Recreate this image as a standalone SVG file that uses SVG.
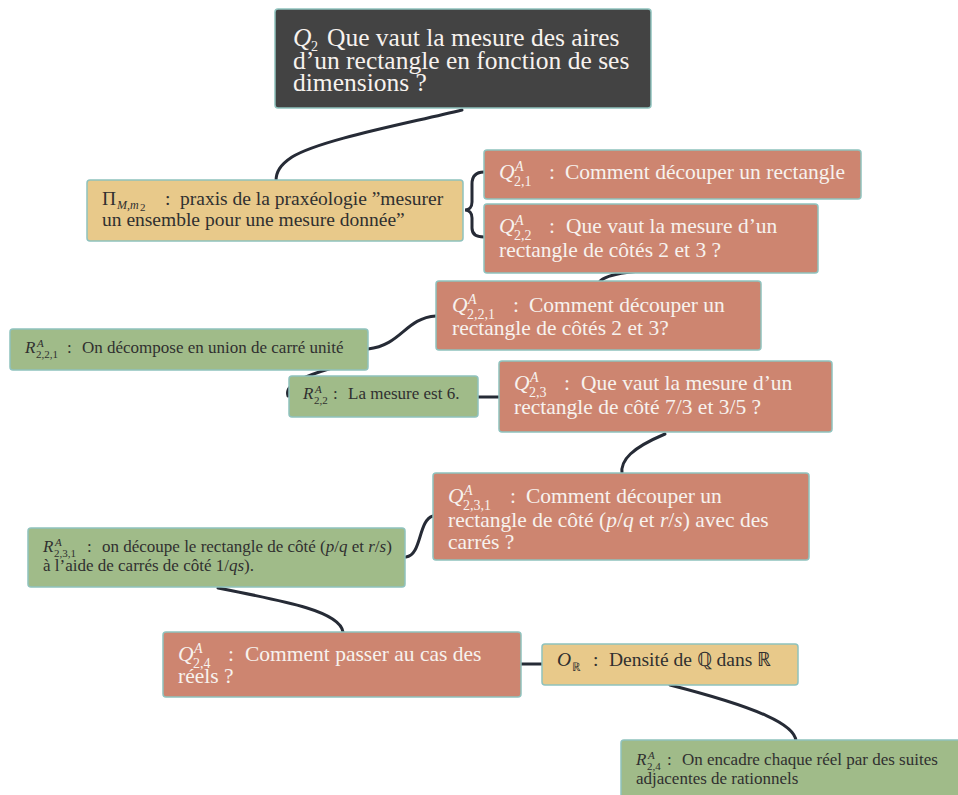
<svg xmlns="http://www.w3.org/2000/svg" width="958" height="795" viewBox="0 0 958 795">
<style>
text{font-family:"Liberation Serif","Times New Roman",serif;}
.box{stroke:#8fc2bd;stroke-width:1.5;}
.dark{fill:#434343;}
.or{fill:#cd8570;}
.gr{fill:#a0bb89;}
.ye{fill:#e8c98a;}
.tl{fill:#f7f2ee;}
.td{fill:#303030;}
.it{font-style:italic;}
.conn path,.conn line{fill:none;stroke:#262b36;stroke-width:3;stroke-linecap:round;}
.t25{font-size:25.5px;}
.t21{font-size:21.5px;}
.t19{font-size:19.5px;}
.t16{font-size:17px;}
.s14{font-size:14px;}
.s12{font-size:12px;}
.s11{font-size:11px;}
</style>
<rect width="958" height="795" fill="#ffffff"/>
<g id="connectors" class="conn">
<path d="M462,110 C400,125 320,140 292,157 C280,165 276,172 276,181"/>
<path d="M484,172 C476,172 472,176 472,184 L472,202 C472,207 469,210 465,210 C469,210 472,213 472,218 L472,228 C472,234 476,237 484,237"/>
<path d="M598,285 C600,274 630,272 652,270"/>
<path d="M436,316 C405,318 402,345 368,349"/>
<path d="M332,368 C305,376 284,384 288,396"/>
<line x1="478" y1="397" x2="499" y2="397"/>
<path d="M665,434 C632,448 620,460 622,474"/>
<path d="M433,516 C418,520 422,555 406,557"/>
<path d="M218,588 C290,602 340,612 343,632"/>
<line x1="521" y1="664" x2="542" y2="664"/>
<path d="M670,685 C760,708 795,725 796,741"/>
</g>
<g id="q2">
<rect class="box dark" x="275" y="9" width="376" height="99" rx="3"/>
<text class="tl t25"><tspan class="it" x="293" y="46">Q</tspan><tspan class="s14" x="311" y="51">2</tspan><tspan x="327" y="46">Que vaut la mesure des aires</tspan><tspan x="293" y="69">d’un rectangle en fonction de ses</tspan><tspan x="293" y="91">dimensions ?</tspan></text>
</g>
<g id="praxis">
<rect class="box ye" x="87" y="180" width="376" height="61" rx="3"/>
<text class="td t19"><tspan x="102" y="205">Π</tspan><tspan class="s12 it" x="117" y="209">M,m</tspan><tspan class="s11" x="140" y="211">2</tspan><tspan x="165" y="205">:</tspan><tspan x="180" y="205">praxis de la praxéologie ”mesurer</tspan><tspan x="102" y="226">un ensemble pour une mesure donnée”</tspan></text>
</g>
<g id="q21">
<rect class="box or" x="484" y="150" width="377" height="49" rx="3"/>
<text class="tl t21"><tspan class="it" x="499" y="179">Q</tspan><tspan class="s14 it" x="515" y="171">A</tspan><tspan class="s14" x="514" y="186">2,1</tspan><tspan x="549" y="179">:</tspan><tspan x="565" y="179">Comment découper un rectangle</tspan></text>
</g>
<g id="q22">
<rect class="box or" x="484" y="204" width="334" height="69" rx="3"/>
<text class="tl t21"><tspan class="it" x="499" y="233">Q</tspan><tspan class="s14 it" x="515" y="225">A</tspan><tspan class="s14" x="514" y="240">2,2</tspan><tspan x="549" y="233">:</tspan><tspan x="566" y="233">Que vaut la mesure d’un</tspan><tspan x="499" y="257">rectangle de côtés 2 et 3 ?</tspan></text>
</g>
<g id="q221">
<rect class="box or" x="436" y="281" width="325" height="69" rx="3"/>
<text class="tl t21"><tspan class="it" x="452" y="312">Q</tspan><tspan class="s14 it" x="468" y="304">A</tspan><tspan class="s14" x="467" y="319">2,2,1</tspan><tspan x="513" y="312">:</tspan><tspan x="529" y="312">Comment découper un</tspan><tspan x="452" y="335">rectangle de côtés 2 et 3?</tspan></text>
</g>
<g id="r221">
<rect class="box gr" x="10" y="329" width="358" height="41" rx="3"/>
<text class="td t16"><tspan class="it" x="25" y="353">R</tspan><tspan class="s11 it" x="37" y="347">A</tspan><tspan class="s11" x="36" y="358">2,2,1</tspan><tspan x="67" y="353">:</tspan><tspan x="82" y="353">On décompose en union de carré unité</tspan></text>
</g>
<g id="r22">
<rect class="box gr" x="289" y="376" width="189" height="41" rx="3"/>
<text class="td t16"><tspan class="it" x="303" y="399">R</tspan><tspan class="s11 it" x="315" y="393">A</tspan><tspan class="s11" x="314" y="404">2,2</tspan><tspan x="333" y="399">:</tspan><tspan x="348" y="399">La mesure est 6.</tspan></text>
</g>
<g id="q23">
<rect class="box or" x="499" y="361" width="333" height="71" rx="3"/>
<text class="tl t21"><tspan class="it" x="514" y="390">Q</tspan><tspan class="s14 it" x="530" y="382">A</tspan><tspan class="s14" x="529" y="397">2,3</tspan><tspan x="564" y="390">:</tspan><tspan x="581" y="390">Que vaut la mesure d’un</tspan><tspan x="514" y="414">rectangle de côté 7/3 et 3/5 ?</tspan></text>
</g>
<g id="q231">
<rect class="box or" x="433" y="473" width="376" height="87" rx="3"/>
<text class="tl t21"><tspan class="it" x="448" y="503">Q</tspan><tspan class="s14 it" x="464" y="495">A</tspan><tspan class="s14" x="463" y="510">2,3,1</tspan><tspan x="510" y="503">:</tspan><tspan x="526" y="503">Comment découper un</tspan><tspan x="448" y="527">rectangle de côté (<tspan class="it">p</tspan>/<tspan class="it">q</tspan> et <tspan class="it">r</tspan>/<tspan class="it">s</tspan>) avec des</tspan><tspan x="448" y="549">carrés ?</tspan></text>
</g>
<g id="r231">
<rect class="box gr" x="28" y="528" width="377" height="59" rx="3"/>
<text class="td t16"><tspan class="it" x="43" y="552">R</tspan><tspan class="s11 it" x="55" y="546">A</tspan><tspan class="s11" x="54" y="557">2,3,1</tspan><tspan x="87" y="552">:</tspan><tspan x="102" y="552">on découpe le rectangle de côté (<tspan class="it">p</tspan>/<tspan class="it">q</tspan> et <tspan class="it">r</tspan>/<tspan class="it">s</tspan>)</tspan><tspan x="43" y="571">à l’aide de carrés de côté 1/<tspan class="it">qs</tspan>).</tspan></text>
</g>
<g id="q24">
<rect class="box or" x="163" y="632" width="358" height="65" rx="3"/>
<text class="tl t21"><tspan class="it" x="178" y="661">Q</tspan><tspan class="s14 it" x="194" y="653">A</tspan><tspan class="s14" x="193" y="668">2,4</tspan><tspan x="228" y="661">:</tspan><tspan x="245" y="661">Comment passer au cas des</tspan><tspan x="178" y="683">réels ?</tspan></text>
</g>
<g id="or">
<rect class="box ye" x="542" y="644" width="256" height="41" rx="3"/>
<text class="td t19"><tspan class="it" x="557" y="666">O</tspan><tspan class="s12" x="572" y="671">ℝ</tspan><tspan x="593" y="666">:</tspan><tspan x="609" y="666">Densité de ℚ dans ℝ</tspan></text>
</g>
<g id="r24">
<rect class="box gr" x="621" y="740" width="345" height="62" rx="3"/>
<text class="td t16"><tspan class="it" x="636" y="765">R</tspan><tspan class="s11 it" x="648" y="759">A</tspan><tspan class="s11" x="647" y="770">2,4</tspan><tspan x="667" y="765">:</tspan><tspan x="682" y="765">On encadre chaque réel par des suites</tspan><tspan x="636" y="784">adjacentes de rationnels</tspan></text>
</g>
</svg>
